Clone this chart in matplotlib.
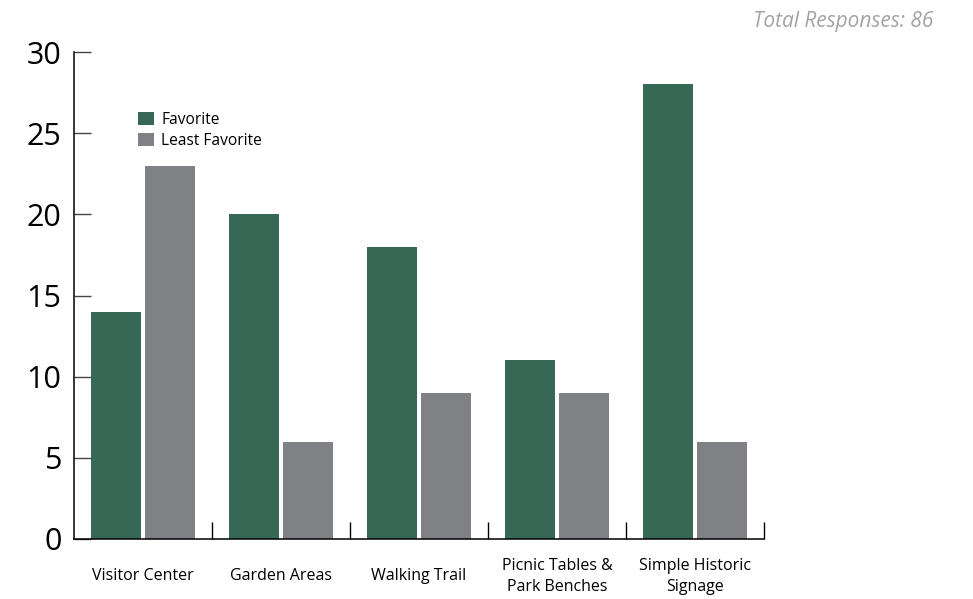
import matplotlib.pyplot as plt
import numpy as np

# chart data
categories = ["Visitor Center", "Garden Areas", "Walking Trail",
              "Picnic Tables &\nPark Benches", "Simple Historic\nSignage"]
favorite = [14, 20, 18, 11, 28]
least_favorite = [23, 6, 9, 9, 6]
total_responses = 86

GREEN = "#376755"
GRAY = "#808184"

plt.rcParams['font.family'] = ['Open Sans', 'DejaVu Sans']

fig = plt.figure(figsize=(9.73, 5.99), dpi=100)
ax = fig.add_axes([74 / 973, 60 / 599, 690 / 973, 487 / 599])

x = np.arange(len(categories))
w = 0.362
off = 0.199
ax.bar(x - off, favorite, w, color=GREEN, label="Favorite")
ax.bar(x + off, least_favorite, w, color=GRAY, label="Least Favorite")

ax.set_xlim(-0.5, len(categories) - 0.5)
ax.set_ylim(0, 30)

for s in ["top", "right"]:
    ax.spines[s].set_visible(False)
for s in ["left", "bottom"]:
    ax.spines[s].set_linewidth(1.1)
    ax.spines[s].set_color("black")

ax.set_yticks([0, 5, 10, 15, 20, 25, 30])
ax.tick_params(axis="y", direction="in", length=12, width=1, color="#444444",
               labelsize=22, pad=9)

# group dividers on x axis (none at the y spine), labels centred under groups
ax.set_xticks(np.arange(1, len(categories) + 1) - 0.5)
ax.set_xticklabels([])
ax.set_xticks(x, minor=True)
ax.set_xticklabels(categories, minor=True, fontsize=11.5, linespacing=1.45)
for lab in ax.get_xticklabels(minor=True):
    lab.set_verticalalignment("center")
ax.tick_params(axis="x", which="major", direction="in", length=12, width=1)
ax.tick_params(axis="x", which="minor", length=0, pad=27)

ax.legend(loc="upper left", bbox_to_anchor=(138 / 973, 1 - 112 / 599),
          bbox_transform=fig.transFigure, frameon=False, fontsize=11.2,
          handlelength=1.05, handleheight=0.9, handletextpad=0.45,
          labelspacing=0.3, borderpad=0, borderaxespad=0)

fig.text(933 / 973, 1 - 21 / 599, f"Total Responses: {total_responses}",
         ha="right", va="center", fontsize=15, style="italic", color="#a3a3a3")

fig.savefig("out.png", dpi=100)
